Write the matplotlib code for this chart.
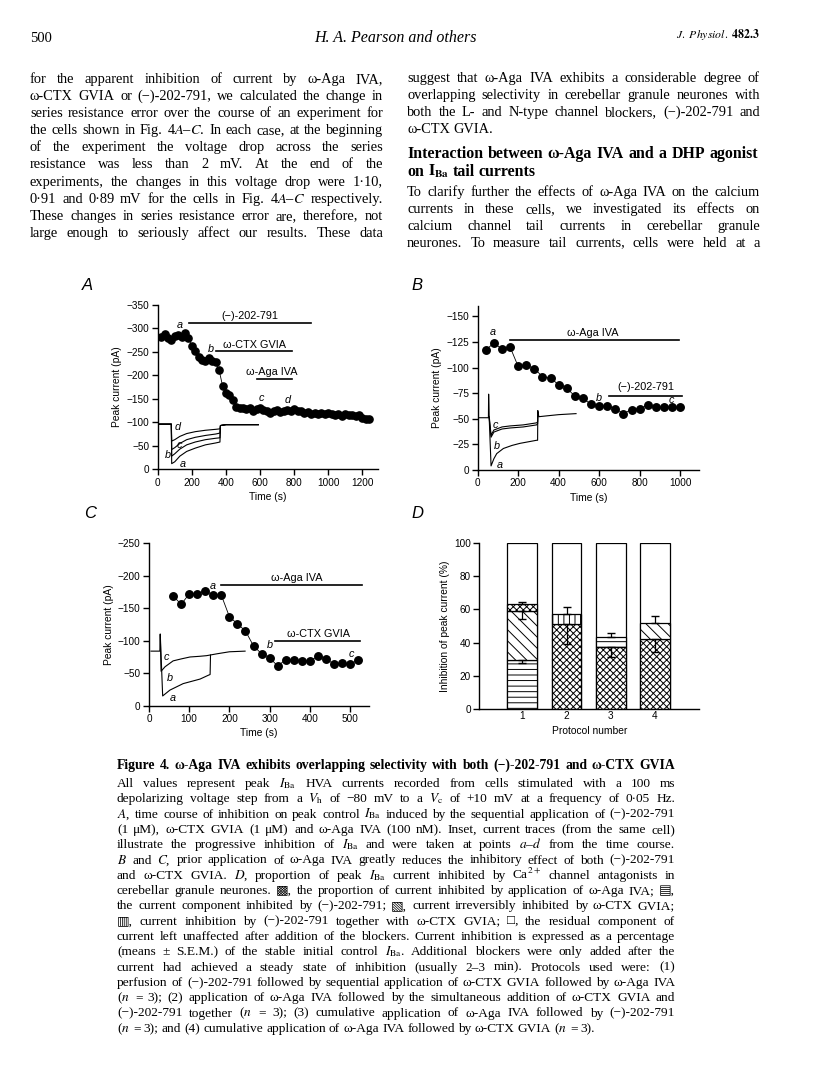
import matplotlib
matplotlib.use('Agg')
import matplotlib.pyplot as plt

plt.rcParams['mathtext.fontset'] = 'stix'
plt.rcParams['hatch.linewidth'] = 0.7
plt.rcParams['axes.linewidth'] = 1.0

W, H = 816, 1091
SERIF = ['Liberation Serif', 'DejaVu Sans']
SANS = ['Liberation Sans', 'DejaVu Sans']

# ---------------- data ----------------
# panel A: time course, sampled every 20 s
tA = list(range(20, 1241, 20))
iA = [-282, -288, -280, -276, -283, -286, -282, -290, -280, -262,
      -252, -238, -233, -230, -236, -230, -228, -211, -178, -163,
      -157, -148, -133, -130, -130, -128, -131, -125, -128, -130,
      -127, -124, -120, -124, -126, -122, -123, -127, -125, -128,
      -124, -123, -120, -122, -118, -120, -117, -119, -118, -120,
      -117, -116, -118, -114, -118, -115, -116, -113, -115, -110,
      -108, -108]
# panel A inset traces
trA_t = [0, 80, 82, 100, 130, 170, 220, 280, 340, 365, 368, 400, 480, 590]
trA = {
    'd': [-96, -96, -60, -63, -70, -76, -80, -83, -85, -86, -93, -95, -95, -95],
    'c': [-96, -96, -42, -46, -55, -63, -68, -72, -75, -77, -93, -95, -95, -95],
    'b': [-96, -96, -28, -33, -43, -52, -58, -63, -66, -67, -93, -95, -95, -95],
    'a': [-96, -96, -12, -16, -28, -38, -45, -52, -56, -58, -93, -95, -95, -95],
}

# panel B: time course, every 40 s
tB = list(range(40, 1001, 40))
iB = [-117, -124, -118, -120, -101, -102, -99, -91, -90, -83, -80, -72, -70,
      -64, -62, -62, -60, -55, -59, -60, -63, -61, -61, -61, -61]
trB_lo_t = [0, 53, 54, 57, 66, 80, 94, 127, 170, 209, 250, 291, 296, 297, 302, 350, 400, 486]
trB_lo = [-51, -51, -74, -50, -4, -11, -16, -21, -24, -26, -27.5, -29, -29, -58, -52, -53, -54, -55]
trB_hi_t = [57, 66, 80, 120, 160, 225, 291, 296, 297]
trB_hi = [-50, -32, -37, -40, -41, -42, -44, -45, -53]

# panel C: time course, every 20 s
tC = list(range(60, 521, 20))
iC = [-169, -156, -172, -172, -177, -170, -170, -137, -126, -115, -92, -80,
      -74, -61, -71, -70, -69, -69, -76, -72, -64, -65, -64, -70]
trC_hi_t = [5, 27, 28, 30, 40, 60, 80, 102, 125, 143, 152, 170, 200, 239]
trC_hi = [-84, -84, -110, -53, -60, -69, -72, -75, -76, -77, -78, -80, -83, -84]
trC_lo_t = [28, 34, 52, 85, 127, 148, 152, 153]
trC_lo = [-110, -15, -24, -34, -41, -47, -48, -78]

# panel D: stacked inhibition per protocol (bottom -> top)
protocols = [1, 2, 3, 4]
layers = [['202', 'ctx', 'aga'], ['aga', 'both'], ['aga', '202'], ['aga', 'ctx']]
heights = [[29.3, 29.7, 4.0], [51.1, 6.1], [37.4, 6.0], [42.4, 9.6]]
errs = [[1.4, 4.5, 1.6], [11.7, 4.4], [6.1, 2.1], [8.1, 4.0]]
hatches = {'aga': 'xxxxx', '202': '---', 'ctx': '\\\\\\', 'both': '|||'}

# ---------------- text ----------------
left_col = [
    "for the apparent inhibition of current by ω-Aga IVA,",
    "ω-CTX GVIA or (−)-202-791, we calculated the change in",
    "series resistance error over the course of an experiment for",
    "the cells shown in Fig. 4$A$–$C$. In each case, at the beginning",
    "of the experiment the voltage drop across the series",
    "resistance was less than 2 mV. At the end of the",
    "experiments, the changes in this voltage drop were 1·10,",
    "0·91 and 0·89 mV for the cells in Fig. 4$A$–$C$ respectively.",
    "These changes in series resistance error are, therefore, not",
    "large enough to seriously affect our results. These data",
]
right_top = [
    "suggest that ω-Aga IVA exhibits a considerable degree of",
    "overlapping selectivity in cerebellar granule neurones with",
    "both the L- and N-type channel blockers, (−)-202-791 and",
    "ω-CTX GVIA.",
]
heading = ["Interaction between ω-Aga IVA and a DHP agonist",
           r"on $\mathbf{I}_{\mathbf{Ba}}$ tail currents"]
right_bot = [
    "To clarify further the effects of ω-Aga IVA on the calcium",
    "currents in these cells, we investigated its effects on",
    "calcium channel tail currents in cerebellar granule",
    "neurones. To measure tail currents, cells were held at a",
]
cap_title = "Figure 4. ω-Aga IVA exhibits overlapping selectivity with both (−)-202-791 and ω-CTX GVIA"
caption = [
    r"All values represent peak $I_{\mathrm{Ba}}$ HVA currents recorded from cells stimulated with a 100 ms",
    r"depolarizing voltage step from a $V_{\mathrm{h}}$ of −80 mV to a $V_{\mathrm{c}}$ of +10 mV at a frequency of 0·05 Hz.",
    r"$A$, time course of inhibition on peak control $I_{\mathrm{Ba}}$ induced by the sequential application of (−)-202-791",
    "(1 μM), ω-CTX GVIA (1 μM) and ω-Aga IVA (100 nM). Inset, current traces (from the same cell)",
    r"illustrate the progressive inhibition of $I_{\mathrm{Ba}}$ and were taken at points $a$–$d$ from the time course.",
    r"$B$ and $C$, prior application of ω-Aga IVA greatly reduces the inhibitory effect of both (−)-202-791",
    r"and ω-CTX GVIA. $D$, proportion of peak $I_{\mathrm{Ba}}$ current inhibited by Ca$^{2+}$ channel antagonists in",
    "cerebellar granule neurones. ▩, the proportion of current inhibited by application of ω-Aga IVA; ▤,",
    "the current component inhibited by (−)-202-791; ▧, current irreversibly inhibited by ω-CTX GVIA;",
    "▥, current inhibition by (−)-202-791 together with ω-CTX GVIA; □, the residual component of",
    "current left unaffected after addition of the blockers. Current inhibition is expressed as a percentage",
    r"(means ± S.E.M.) of the stable initial control $I_{\mathrm{Ba}}$. Additional blockers were only added after the",
    "current had achieved a steady state of inhibition (usually 2–3 min). Protocols used were: (1)",
    "perfusion of (−)-202-791 followed by sequential application of ω-CTX GVIA followed by ω-Aga IVA",
    r"($n$ = 3); (2) application of ω-Aga IVA followed by the simultaneous addition of ω-CTX GVIA and",
    r"(−)-202-791 together ($n$ = 3); (3) cumulative application of ω-Aga IVA followed by (−)-202-791",
    r"($n$ = 3); and (4) cumulative application of ω-Aga IVA followed by ω-CTX GVIA ($n$ = 3).",
]

fig = plt.figure(figsize=(W / 100, H / 100), dpi=100)
rend = fig.canvas.get_renderer()


def jline(x0, x1, y, s, size, just=True, **kw):
    """place one justified line of words between pixel x0 and x1 at baseline y"""
    words = s.split(' ')
    while True:
        ts = [fig.text(0, 1 - y / H, w, fontsize=size, family=SERIF,
                       va='baseline', **kw) for w in words]
        ws = [t.get_window_extent(rend).width for t in ts]
        gap = (x1 - x0 - sum(ws)) / max(len(words) - 1, 1)
        if gap >= 2.2 or size < 6:
            break
        for t in ts:
            t.remove()
        size -= 0.2
    if not just:
        gap = min(gap, size * 0.33)
    x = x0
    for t, w in zip(ts, ws):
        t.set_x(x / W)
        x += w + gap


# header
fig.text(30 / W, 1 - 42 / H, "500", fontsize=10.5, family=SERIF, va='baseline')
fig.text(395 / W, 1 - 42 / H, "H. A. Pearson and others", fontsize=11.5,
         family=SERIF, style='italic', ha='center', va='baseline')
fig.text(760 / W, 1 - 38 / H, r"$J.$ $Physiol.$ $\mathbf{482.3}$", fontsize=8.5,
         family=SERIF, ha='right', va='baseline')

BODY = 10.4
for i, s in enumerate(left_col):
    jline(30, 383, 83 + 17.1 * i, s, BODY)
for i, s in enumerate(right_top):
    jline(407, 760, 82 + 17.1 * i, s, BODY, just=(i < 3))
jline(407, 758, 158, heading[0], 11.4, weight='bold')
jline(407, 760, 176, heading[1], 11.4, just=False, weight='bold')
for i, s in enumerate(right_bot):
    jline(407, 760, 196 + 17.1 * i, s, BODY)

CAP = 9.6
jline(117, 675, 769, cap_title, 9.8, weight='bold')
for i, s in enumerate(caption):
    jline(117, 675, 787 + 15.3 * i, s, CAP, just=(i < len(caption) - 1))


def add_ax(x0, x1, ytop, ybot):
    return fig.add_axes([x0 / W, 1 - ybot / H, (x1 - x0) / W, (ybot - ytop) / H])


def style(ax, xlab, ylab):
    for s in ['top', 'right']:
        ax.spines[s].set_visible(False)
    ax.tick_params(direction='out', length=4, width=1, labelsize=7.2, pad=2)
    for lab in ax.get_xticklabels() + ax.get_yticklabels():
        lab.set_family(SANS)
    ax.set_xlabel(xlab, fontsize=7.4, family=SANS, labelpad=3)
    ax.set_ylabel(ylab, fontsize=7.4, family=SANS, labelpad=3)


def lbl(ax, x, y, s, size=7.8, **kw):
    ax.text(x, y, s, fontsize=size, family=SANS, ha='center', va='center', **kw)


def panel_letter(x, y, s):
    fig.text(x / W, 1 - y / H, s, fontsize=12, family=SANS, style='italic',
             ha='center', va='center')


# ---------------- panel A ----------------
axA = add_ax(157.7, 377.7, 304.7, 469.3)
axA.plot(tA, iA, '-', color='k', lw=0.6, zorder=2)
axA.plot(tA, iA, 'o', color='k', ms=5.2, zorder=3)
for k, v in trA.items():
    axA.plot(trA_t, v, color='k', lw=0.8)
axA.plot([181, 898], [-312, -312], 'k', lw=1.2)
axA.plot([341, 788], [-251.5, -251.5], 'k', lw=1.2)
axA.plot([583, 788], [-191, -191], 'k', lw=1.2)
lbl(axA, 540, -326, "(−)-202-791")
lbl(axA, 565, -264, "ω-CTX GVIA")
lbl(axA, 668, -207, "ω-Aga IVA")
for s, x, y in [('a', 127, -307), ('b', 312, -256), ('c', 609, -151), ('d', 761, -148),
                ('d', 117, -89), ('c', 125, -52), ('b', 62, -30), ('a', 144, -12)]:
    lbl(axA, x, y, s, style='italic')
axA.set_xlim(0, 1290)
axA.set_ylim(0, -350)
axA.set_xticks(range(0, 1201, 200))
axA.set_yticks(range(0, -351, -50))
style(axA, "Time (s)", "Peak current (pA)")

# ---------------- panel B ----------------
axB = add_ax(477.7, 699.3, 306, 470)
axB.plot(tB, iB, '-', color='k', lw=0.6, zorder=2)
axB.plot(tB, iB, 'o', color='k', ms=5.4, zorder=3)
axB.plot(trB_lo_t, trB_lo, color='k', lw=0.8)
axB.plot(trB_hi_t, trB_hi, color='k', lw=0.8)
axB.plot(trB_hi_t, [v - 2 for v in trB_hi], color='k', lw=0.8)
axB.plot([160, 996], [-126.6, -126.6], 'k', lw=1.2)
axB.plot([648, 1009], [-72.4, -72.4], 'k', lw=1.2)
lbl(axB, 570, -134, "ω-Aga IVA")
lbl(axB, 830, -81, "(−)-202-791")
for s, x, y in [('a', 74, -135), ('b', 601, -70), ('c', 958, -68),
                ('c', 88, -44), ('b', 95, -23), ('a', 110, -5)]:
    lbl(axB, x, y, s, style='italic')
axB.set_xlim(0, 1095)
axB.set_ylim(0, -160)
axB.set_xticks(range(0, 1001, 200))
axB.set_yticks(range(0, -151, -25))
style(axB, "Time (s)", "Peak current (pA)")

# ---------------- panel C ----------------
axC = add_ax(149, 369.3, 543.3, 705.7)
axC.plot(tC, iC, '-', color='k', lw=0.6, zorder=2)
axC.plot(tC, iC, 'o', color='k', ms=5.4, zorder=3)
axC.plot(trC_hi_t, trC_hi, color='k', lw=0.8)
axC.plot(trC_lo_t, trC_lo, color='k', lw=0.8)
axC.plot([179, 529], [-186, -186], 'k', lw=1.2)
axC.plot([313, 525], [-99.6, -99.6], 'k', lw=1.2)
lbl(axC, 367, -196, "ω-Aga IVA")
lbl(axC, 421, -110, "ω-CTX GVIA")
for s, x, y in [('a', 158, -185), ('b', 301, -93), ('c', 504, -80),
                ('c', 44, -75), ('b', 51, -43), ('a', 58, -12)]:
    lbl(axC, x, y, s, style='italic')
axC.set_xlim(0, 548)
axC.set_ylim(0, -250)
axC.set_xticks(range(0, 501, 100))
axC.set_yticks(range(0, -251, -50))
style(axC, "Time (s)", "Peak current (pA)")

# ---------------- panel D ----------------
axD = add_ax(479.3, 699.3, 543.3, 708.7)
bw = 0.67
for p, lay, hs, es in zip(protocols, layers, heights, errs):
    axD.bar(p, 100, bw, color='white', edgecolor='k', lw=0.9, zorder=1)
    bottom = 0
    for j, (name, h, e) in enumerate(zip(lay, hs, es)):
        axD.bar(p, h, bw, bottom=bottom, color='white', edgecolor='k',
                hatch=hatches[name], lw=0.9, zorder=2)
        top = bottom + h
        if j == len(lay) - 1:
            axD.errorbar(p, top, yerr=[[0], [e]], color='k', lw=0.9, capsize=3, zorder=3)
        else:
            axD.errorbar(p, top, yerr=[[e], [0]], color='k', lw=0.9, capsize=3, zorder=3)
        bottom = top
axD.set_xlim(0.03, 5.0)
axD.set_ylim(0, 100)
axD.set_xticks(protocols)
axD.set_yticks(range(0, 101, 20))
style(axD, "Protocol number", "Inhibition of peak current (%)")
axD.tick_params(axis='x', length=0)

panel_letter(87, 285, 'A')
panel_letter(417, 285, 'B')
panel_letter(90, 514, 'C')
panel_letter(417, 514, 'D')

fig.savefig('out.png', dpi=100)
